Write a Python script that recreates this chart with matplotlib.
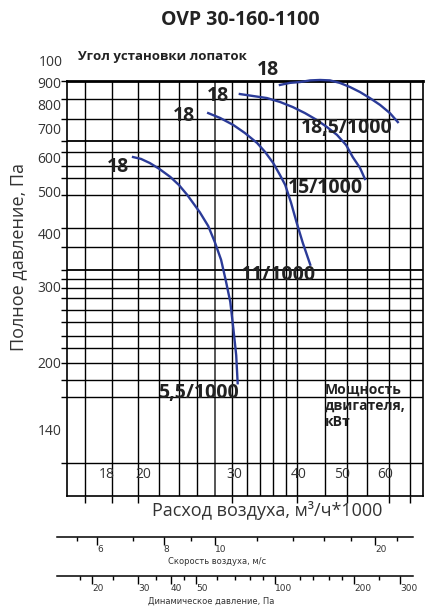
import matplotlib
matplotlib.use('Agg')
import matplotlib.pyplot as plt
from matplotlib.ticker import NullFormatter

plt.rcParams['font.family'] = ['Open Sans', 'DejaVu Sans']

# fan curves, flow in m3/h*1000 and total pressure in Pa
flow_55 = [19.3, 20.0, 20.8, 21.7, 22.8, 23.7, 24.6, 26.0, 27.0, 27.8, 28.6, 29.2, 29.8, 30.2, 30.6, 30.8]
pres_55 = [602, 596, 583, 565, 541, 518, 491, 448, 416, 382, 347, 311, 277, 241, 208, 179]

flow_11 = [27.0, 28.5, 30.2, 31.8, 33.6, 34.8, 36.1, 37.2, 38.1, 39.1, 40.1, 41.2, 42.6]
pres_11 = [762, 742, 715, 685, 649, 619, 583, 547, 518, 471, 423, 380, 338]

flow_15 = [31.1, 33.0, 35.1, 37.2, 39.4, 41.6, 43.9, 45.9, 48.0, 50.0, 51.5, 53.2, 54.4]
pres_15 = [844, 835, 826, 809, 787, 762, 734, 707, 678, 642, 602, 568, 535]

flow_185 = [37.2, 38.9, 40.7, 42.6, 44.5, 46.5, 48.6, 50.9, 53.2, 55.6, 58.2, 60.8, 63.0]
pres_185 = [886, 896, 900, 908, 910, 908, 896, 876, 853, 826, 796, 762, 726]

power_labels = ['5,5/1000', '11/1000', '15/1000', '18,5/1000']
power_flow = [25.8, 36.9, 45.5, 50.2]
power_pres = [170, 320, 510, 704]

angle_labels = ['18', '18', '18', '18']
angle_flow = [18.05, 24.2, 28.2, 35.3]
angle_pres = [571, 750, 835, 960]

# nomogram grid
grid_flow = [15.6, 17.6, 19.7, 21.7, 23.7, 25.7, 27.8, 30.0, 32.1, 34.0, 36.1,
             38.2, 40.1, 45.5, 50.2, 54.9, 60.5, 66.5]
grid_pres = [822, 738, 656, 619, 574, 538, 491, 412, 372, 329, 313, 298, 283,
             265, 249, 231, 216, 199, 182, 166, 117]
flow_ext = [15.6, 17.6, 19.7, 30.0, 40.1, 50.2, 60.5, 66.5]

pres_ticks = [900, 800, 700, 600, 500, 400, 300, 200, 140]
flow_tick_labels = ['18', '20', '30', '40', '50', '60']
flow_tick_pos = [17.2, 20.2, 30.4, 40.4, 49.1, 59.5]

# extra scales under the chart
vel_major = [6, 8, 10, 20]
vel_minor = [5.5, 7, 9, 12, 14, 16, 18, 22]
dyn_major = [20, 30, 40, 50, 100, 200, 300]
dyn_minor = [18, 24, 35, 45, 60, 70, 80, 90, 125, 140, 160, 180, 250]

blue = '#2b3b98'
txt = '#333333'

fig = plt.figure(figsize=(4.38, 6.10), dpi=100)
ax = fig.add_axes([0.1530, 0.1869, 0.8128, 0.6803])
ax.set_xscale('log')
ax.set_yscale('log')
ax.set_xlim(14.37, 70.5)
ax.set_ylim(97.8, 905)

for q in grid_flow:
    if q == 27.8:
        ax.axvline(q, color='#555555', lw=1.4, zorder=1)
    else:
        ax.axvline(q, color='k', lw=1.0, zorder=1)
for p in grid_pres:
    if p in (656, 329):
        ax.axhline(p, color='k', lw=1.3, zorder=1)
    else:
        ax.axhline(p, color='k', lw=1.0, zorder=1)

ax.set_yticks(pres_ticks)
ax.set_yticklabels([str(v) for v in pres_ticks])
ax.set_yticks(grid_pres + [905], minor=True)
ax.yaxis.set_minor_formatter(NullFormatter())
ax.set_xticks([])
ax.set_xticks(flow_ext, minor=True)
ax.xaxis.set_minor_formatter(NullFormatter())
ax.tick_params(axis='y', which='major', length=0, pad=4, labelsize=10, labelcolor=txt)
ax.tick_params(axis='y', which='minor', length=4, width=1)
ax.tick_params(axis='x', which='minor', length=5, width=1)

for s in ['left', 'right', 'bottom']:
    ax.spines[s].set_linewidth(1.2)
ax.spines['top'].set_linewidth(2)

####################################################################
ax.plot(flow_55, pres_55, color=blue, lw=1.7, zorder=3, clip_on=False)
ax.plot(flow_11, pres_11, color=blue, lw=1.7, zorder=3, clip_on=False)
ax.plot(flow_15, pres_15, color=blue, lw=1.7, zorder=3, clip_on=False)
ax.plot(flow_185, pres_185, color=blue, lw=1.7, zorder=3, clip_on=False)

for i in range(len(power_labels)):
    ax.text(power_flow[i], power_pres[i], power_labels[i], fontsize=14,
            fontweight='bold', ha='center', va='center', color='#222222', zorder=4)
for i in range(len(angle_labels)):
    ax.text(angle_flow[i], angle_pres[i], angle_labels[i], fontsize=14,
            fontweight='bold', ha='center', va='center', color='#222222', zorder=4)

for i in range(len(flow_tick_labels)):
    ax.text(flow_tick_pos[i], 109.5, flow_tick_labels[i], fontsize=10,
            ha='center', va='center', color=txt)

ax.text(45.5, 180, 'Мощность\nдвигателя,\nкВт', fontsize=10, fontweight='bold',
        ha='left', va='top', linespacing=1.2, color='#222222')

fig.text(0.548, 0.967, 'OVP 30-160-1100', fontsize=14, fontweight='bold',
         ha='center', va='center', color='#222222')
fig.text(0.178, 0.9066, 'Угол установки лопаток', fontsize=9.5, fontweight='bold',
         ha='left', va='center', color='#222222')
fig.text(0.144, 0.897, '100', fontsize=10, ha='right', va='center', color=txt)
fig.text(0.041, 0.579, 'Полное давление, Па', fontsize=13, rotation=90,
         ha='center', va='center', color=txt)
fig.text(0.6096, 0.1623, 'Расход воздуха, м³/ч*1000', fontsize=13,
         ha='center', va='center', color=txt)

####################################################################
def scale_axis(ypos, lims, major, minor):
    a = fig.add_axes([0.1301, ypos, 0.8128, 0.0001])
    a.set_xscale('log')
    a.set_xlim(lims)
    for s in ['top', 'left', 'right']:
        a.spines[s].set_visible(False)
    a.spines['bottom'].set_linewidth(1.1)
    a.patch.set_visible(False)
    a.set_yticks([])
    a.set_xticks(major)
    a.set_xticklabels([str(v) for v in major], family='DejaVu Sans')
    a.set_xticks(minor, minor=True)
    a.xaxis.set_minor_formatter(NullFormatter())
    a.tick_params(which='major', length=6, width=1, pad=0, labelsize=6.5, labelcolor=txt)
    a.tick_params(which='minor', length=3, width=1)
    for t in a.get_xticklabels():
        t.set_ha('left')
    return a

ax_v = scale_axis(0.1197, (5.04, 23.58), vel_major, vel_minor)
ax_d = scale_axis(0.0557, (14.7, 336), dyn_major, dyn_minor)

fig.text(0.495, 0.079, 'Скорость воздуха, м/с', fontsize=6, family='DejaVu Sans',
         ha='center', va='center', color=txt)
fig.text(0.482, 0.0148, 'Динамическое давление, Па', fontsize=6, family='DejaVu Sans',
         ha='center', va='center', color=txt)

fig.savefig('out.png', dpi=100)
